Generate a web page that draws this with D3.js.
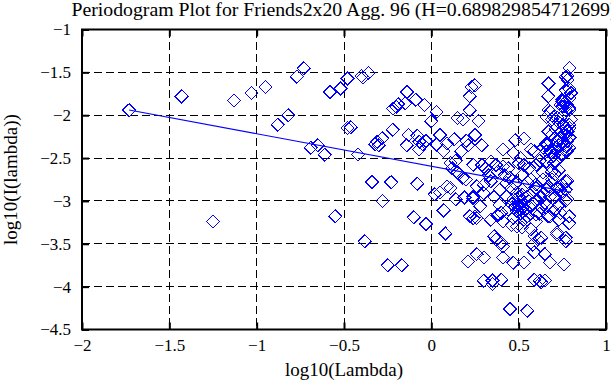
<!DOCTYPE html>
<html>
<head>
<meta charset="utf-8">
<script src="https://cdn.jsdelivr.net/npm/d3@7"></script>
<style>
  body { margin: 0; background: #fff; }
  svg { display: block; }
  text { font-family: "Liberation Serif", "Times New Roman", serif; fill: #000; }
</style>
</head>
<body>
<svg id="chart" width="611" height="385"></svg>
<script>
// tick values
const xTicks = [-2, -1.5, -1, -0.5, 0, 0.5, 1];
const yTicks = [-4.5, -4, -3.5, -3, -2.5, -2, -1.5, -1];

// fitted line: slope = 1 - 2H, intercept
const hurst = 0.689829854712699;
const fitIntercept = -2.596;

// [log10(lambda), log10(I(lambda))]
const points = [
  [-1.73,-1.94],[-1.43,-1.78],[-1.13,-1.83],[-1.03,-1.74],[-0.95,-1.67],[-0.77,-1.55],[-0.73,-1.45],
  [-0.88,-2.11],[-0.82,-2.00],[-0.69,-2.38],[-0.65,-2.35],[-0.61,-2.46],[-0.58,-1.73],[-0.52,-1.69],
  [-0.48,-1.57],[-0.48,-2.15],[-0.46,-2.14],[-1.25,-3.24],[-0.55,-3.18],
  [-0.40,-1.54],[-0.36,-1.51],[-0.39,-1.56],[-0.14,-1.73],[-0.09,-1.82],[-0.04,-1.88],[-0.19,-1.87],
  [-0.20,-1.90],[-0.22,-1.92],[-0.15,-1.86],[0.23,-1.67],[0.22,-1.78],[0.03,-1.96],[0.00,-2.07],
  [0.15,-2.03],[0.18,-2.05],[0.22,-1.94],
  [-0.22,-2.17],[-0.28,-2.27],[-0.31,-2.31],[-0.32,-2.34],[-0.30,-2.35],[-0.13,-2.23],[-0.14,-2.35],
  [-0.07,-2.31],[-0.05,-2.34],[-0.03,-2.30],[-0.08,-2.24],[0.05,-2.23],[0.13,-2.28],[0.09,-2.33],
  [0.03,-2.34],[-0.07,-2.40],[0.20,-2.30],[0.21,-2.35],[0.17,-2.42],[-0.42,-2.46],[0.14,-2.53],
  [0.11,-2.56],[0.12,-2.62],[0.15,-2.67],[0.18,-2.73],[0.20,-2.75],[-0.34,-2.78],[-0.23,-2.78],
  [-0.08,-2.80],[0.09,-2.83],[0.24,-2.58],[0.07,-2.42],
  [0.25,-1.65],[0.27,-2.07],[0.25,-2.23],[0.29,-2.35],[0.79,-1.45],[0.77,-1.55],[0.78,-1.59],
  [0.78,-1.54],[0.67,-1.63],[0.67,-1.78],[0.79,-1.69],[0.80,-1.74],[0.79,-1.80],[0.77,-1.71],
  [0.75,-1.84],[0.74,-1.88],[0.76,-1.90],[0.79,-1.92],[0.79,-1.94],[0.75,-1.82],[0.76,-1.86],
  [0.78,-1.88],[0.75,-1.90],[0.77,-1.94],[0.67,-1.94],[0.68,-1.96],[0.70,-2.02],[0.69,-2.05],
  [0.72,-2.03],[0.66,-2.02],[0.74,-2.03],[0.79,-2.11],[0.77,-2.15],[0.79,-2.15],[0.78,-2.19],
  [0.67,-2.19],[0.69,-2.23],[0.73,-2.08],[0.76,-2.12],[0.71,-2.16],[0.74,-2.20],[0.80,-2.05],
  [0.74,-2.27],[0.75,-2.30],[0.76,-2.33],[0.77,-2.36],[0.78,-2.30],[0.77,-2.24],[0.76,-2.40],
  [0.78,-2.42],[0.79,-2.38],[0.73,-2.35],[0.72,-2.30],[0.75,-2.45],[0.66,-2.33],[0.64,-2.38],
  [0.66,-2.42],[0.72,-2.42],[0.77,-2.42],[0.70,-2.37],[0.79,-2.26],[0.74,-2.49],[0.70,-2.47],
  [0.53,-2.27],[0.48,-2.29],[0.66,-2.35],[0.41,-2.40],[0.47,-2.44],[0.59,-2.42],[0.68,-2.42],
  [0.57,-2.40],[0.62,-2.53],[0.51,-2.50],[0.50,-2.56],[0.53,-2.58],[0.34,-2.54],[0.29,-2.58],
  [0.37,-2.58],[0.41,-2.60],[0.60,-2.58],[0.71,-2.54],[0.66,-2.54],[0.70,-2.56],[0.73,-2.64],
  [0.71,-2.69],[0.64,-2.67],[0.69,-2.66],[0.77,-2.77],[0.78,-2.77],[0.75,-2.81],[0.45,-2.73],
  [0.43,-2.79],[0.34,-2.77],[0.30,-2.81],[0.57,-2.75],[0.60,-2.81],[0.64,-2.75],[0.67,-2.83],
  [0.26,-2.83],[0.30,-2.91],[0.39,-2.87],[0.36,-2.95],[0.47,-2.98],[0.49,-3.02],[0.50,-3.05],
  [0.51,-3.00],[0.52,-3.08],[0.53,-3.03],[0.48,-3.07],[0.50,-2.95],[0.54,-3.10],[0.46,-3.04],
  [0.60,-2.85],[0.66,-2.87],[0.72,-2.85],[0.77,-2.87],[0.77,-3.00],[0.78,-2.98],[0.74,-2.87],
  [0.75,-2.91],[0.64,-2.91],[0.68,-2.95],[0.65,-3.02],[0.63,-3.08],[0.70,-3.12],[0.68,-3.18],
  [0.73,-3.22],[0.50,-3.00],[0.51,-3.10],[0.49,-3.12],[0.52,-2.93],
  [0.25,-3.18],[0.26,-3.20],[0.34,-3.22],[0.40,-3.14],[0.41,-3.24],[0.60,-3.16],[0.67,-3.18],
  [0.74,-3.14],[0.79,-3.18],[0.79,-3.26],[0.46,-3.28],[0.49,-3.30],[0.52,-3.31],[0.60,-3.24],
  [0.57,-3.33],[0.72,-3.39],[0.72,-3.37],[0.77,-3.47],[0.77,-3.43],[0.63,-3.43],[0.36,-3.41],
  [0.37,-3.45],[0.40,-3.49],[0.41,-3.53],[0.59,-3.41],[0.61,-3.45],[0.58,-3.51],
  [0.26,-3.62],[0.30,-3.66],[0.41,-3.66],[0.47,-3.72],[0.53,-3.72],[0.59,-3.60],[0.65,-3.62],
  [0.68,-3.72],[0.76,-3.74],[0.30,-3.93],[0.35,-3.93],[0.35,-3.97],[0.40,-3.92],[0.59,-3.92],
  [0.62,-3.93],[0.63,-3.95],[0.65,-3.93],[0.45,-4.26],[0.55,-4.28],
  [-0.28,-3.00],[0.02,-2.92],[0.05,-2.90],[0.11,-2.85],[0.14,-2.98],[0.19,-2.96],[0.24,-2.95],
  [0.07,-3.11],[-0.10,-3.19],[-0.03,-3.27],[0.22,-3.18],[0.24,-3.20],[0.08,-3.38],[-0.38,-3.47],
  [-0.25,-3.75],[-0.17,-3.75],[0.21,-3.71],[0.24,-2.97],[0.28,-3.06],
  [0.31,-2.62],[0.33,-2.70],[0.38,-2.66],[0.42,-2.70],[0.44,-2.62],[0.46,-2.85],[0.48,-2.80],
  [0.52,-2.70],[0.55,-2.78],[0.56,-2.62],[0.58,-2.90],[0.55,-2.95],[0.57,-3.05],[0.60,-3.00],
  [0.62,-2.95],[0.43,-2.95],[0.44,-3.10],[0.55,-3.18],[0.62,-3.15],[0.66,-3.05],[0.69,-2.75],
  [0.71,-2.95],[0.73,-3.05],[0.39,-3.05],[0.38,-3.17],[0.49,-2.90],[0.51,-3.15],[0.53,-3.22],
  [0.47,-3.20]
];

const plotLeft = 82, plotRight = 606, plotTop = 29.5, plotBottom = 329.5;

const x = d3.scaleLinear().domain([-2, 1]).range([plotLeft, plotRight]);
const y = d3.scaleLinear().domain([-4.5, -1]).range([plotBottom, plotTop]);

const svg = d3.select('#chart');

svg.append('rect')
  .attr('width', 611).attr('height', 385).attr('fill', '#fff');

// dashed grid
const grid = svg.append('g')
  .attr('stroke', '#000')
  .attr('stroke-width', 1)
  .attr('stroke-dasharray', '8,4')
  .attr('shape-rendering', 'crispEdges');

grid.selectAll('.gx')
  .data(xTicks.slice(1, -1))
  .enter()
  .append('line')
  .attr('x1', (d) => x(d)).attr('x2', (d) => x(d))
  .attr('y1', plotTop).attr('y2', plotBottom);

grid.selectAll('.gy')
  .data(yTicks.slice(1, -1))
  .enter()
  .append('line')
  .attr('y1', (d) => y(d)).attr('y2', (d) => y(d))
  .attr('x1', plotLeft).attr('x2', plotRight);

// markers
const diamond = (d) => {
  const cx = x(d[0]), cy = y(d[1]), r = 6.5;
  return 'M' + cx + ',' + (cy - r) + 'L' + (cx + r) + ',' + cy +
         'L' + cx + ',' + (cy + r) + 'L' + (cx - r) + ',' + cy + 'Z';
};

svg.append('g')
  .selectAll('path')
  .data(points)
  .enter()
  .append('path')
  .attr('d', diamond)
  .attr('fill', 'none')
  .attr('stroke', '#0000ff')
  .attr('stroke-width', 1)
  .attr('shape-rendering', 'crispEdges');

// least squares line
const slope = 1 - 2 * hurst;
const fitX = d3.extent(points, (d) => d[0]);
svg.append('line')
  .attr('x1', x(fitX[0])).attr('y1', y(fitIntercept + slope * fitX[0]))
  .attr('x2', x(fitX[1])).attr('y2', y(fitIntercept + slope * fitX[1]))
  .attr('stroke', '#0000ff')
  .attr('stroke-width', 1.2);

// axes, ticks inside on all four sides
const fmt = d3.format('');
const styleAxis = (g) => {
  g.select('.domain').remove();
  g.selectAll('.tick line').attr('stroke', '#000').attr('stroke-width', 2);
  g.selectAll('text').attr('font-size', 17).attr('fill', '#000')
    .attr('font-family', '"Liberation Serif", serif');
};

svg.append('g')
  .attr('transform', 'translate(0,' + plotBottom + ')')
  .call(d3.axisBottom(x).tickValues(xTicks).tickFormat(fmt).tickSizeInner(-7).tickSizeOuter(0).tickPadding(9))
  .call(styleAxis);

svg.append('g')
  .attr('transform', 'translate(0,' + plotTop + ')')
  .call(d3.axisTop(x).tickValues(xTicks).tickFormat('').tickSizeInner(-7).tickSizeOuter(0))
  .call(styleAxis);

svg.append('g')
  .attr('transform', 'translate(' + plotLeft + ',0)')
  .call(d3.axisLeft(y).tickValues(yTicks).tickFormat(fmt).tickSizeInner(-7).tickSizeOuter(0).tickPadding(11))
  .call(styleAxis);

svg.append('g')
  .attr('transform', 'translate(' + plotRight + ',0)')
  .call(d3.axisRight(y).tickValues(yTicks).tickFormat('').tickSizeInner(-7).tickSizeOuter(0))
  .call(styleAxis);

// box
svg.append('rect')
  .attr('x', plotLeft).attr('y', plotTop)
  .attr('width', plotRight - plotLeft).attr('height', plotBottom - plotTop)
  .attr('fill', 'none')
  .attr('stroke', '#000')
  .attr('stroke-width', 2);

// labels (the title runs past the right edge, as in the original)
svg.append('text')
  .attr('x', (plotLeft + plotRight) / 2).attr('y', 16)
  .attr('text-anchor', 'middle')
  .attr('font-size', 19.8)
  .text('Periodogram Plot for Friends2x20 Agg. 96 (H=' + hurst + ')');

svg.append('text')
  .attr('x', (plotLeft + plotRight) / 2).attr('y', 376)
  .attr('text-anchor', 'middle')
  .attr('font-size', 19)
  .text('log10(Lambda)');

svg.append('text')
  .attr('transform', 'translate(17,' + (plotTop + plotBottom) / 2 + ') rotate(-90)')
  .attr('text-anchor', 'middle')
  .attr('font-size', 19)
  .text('log10(I(lambda))');
</script>
</body>
</html>
